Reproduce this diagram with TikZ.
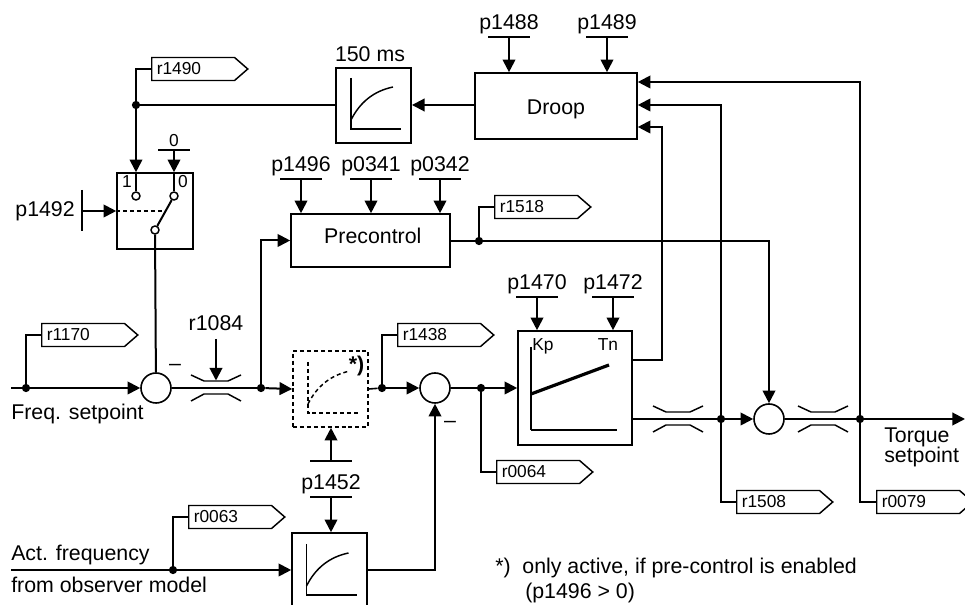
\documentclass[tikz,border=0pt]{standalone}
\usepackage{fontspec}
\setmainfont{Liberation Sans}
\usepackage{tikz}
\usetikzlibrary{shapes,shapes.symbols,arrows.meta,positioning,calc}
\tikzset{
    lbl/.style={inner sep=0pt, font=\fontsize{16pt}{19pt}\selectfont},
    lblsmall/.style={inner sep=0pt, font=\fontsize{13pt}{15pt}\selectfont},
    block/.style={draw, line width=1.2pt, inner sep=0pt, fill=white, font=\fontsize{16pt}{19pt}\selectfont},
    sumpt/.style={circle, draw, line width=1.2pt, minimum size=22.5pt, inner sep=0pt},
    dot/.style={circle, fill=black, minimum size=6.2pt, inner sep=0pt},
    contact/.style={circle, draw, fill=white, line width=1.1pt, minimum size=6pt, inner sep=0pt},
    tagbox/.style={signal, signal to=east, signal pointer angle=82, draw, line width=1.1pt, anchor=west,
        minimum height=17.25pt, text width=54.5pt, inner xsep=3.8pt, inner ysep=0pt, align=left,
        font=\fontsize{13pt}{15pt}\selectfont},
    wire/.style={line width=1.5pt},
    branch/.style={line width=1.2pt},
    sig/.style={line width=1.5pt, -{Triangle[length=9.5pt,width=9.5pt]}},
    throttle/.pic={
        \draw[line width=1.1pt] (-25,-13) -- (-12,-7) -- (12,-7) -- (25,-13);
        \draw[line width=1.1pt] (-25,13) -- (-12,6) -- (12,6) -- (25,13);
    },
    lagcurve/.pic={
        \draw[line width=1.1pt] (0,-51) -- (0,0) -- (50,0);
        \draw[line width=1.1pt] (0,-9) .. controls (9,-27) and (23,-38) .. (42,-42);
    }
}

\begin{document}
\begin{tikzpicture}[x=0.75pt, y=-0.75pt]
    \clip (0,0) rectangle (965,605);

    % --- Blocks ---
    \node[block, minimum width=56.5pt, minimum height=56.5pt] (smooth) at (373.5,105.5) {};
    \node[block, minimum width=121.5pt, minimum height=49.5pt, text height=13.5pt, text depth=0pt] (droop) at (556,106) {Droop};
    \node[block, minimum width=119.25pt, minimum height=39.75pt, text height=12pt, text depth=7pt] (precontrol) at (370.5,240.5) {\hspace*{3.5pt}Precontrol};
    \node[block, minimum width=57pt, minimum height=57pt] (switchbox) at (155,211) {};
    \node[block, dashed, dash pattern=on 3pt off 2.2pt, minimum width=56.25pt, minimum height=57pt] (gain) at (330.5,389) {};
    \node[block, minimum width=85.5pt, minimum height=85.5pt] (kpbox) at (575,388) {};
    \node[block, minimum width=56.25pt, minimum height=57pt] (actfilter) at (329.5,571) {};

    % --- Summing points ---
    \node[sumpt] (sumfreq) at (156,388) {};
    \node[sumpt] (sumact) at (435,388) {};
    \node[sumpt] (sumout) at (769,419) {};
    \node[lbl, anchor=base] (minusa) at (175,371) {–};
    \node[lbl, anchor=base] (minusb) at (450,428) {–};

    % --- Junctions ---
    \node[dot] (jback) at (136,105) {};
    \node[dot] (jfreq) at (26,388) {};
    \node[dot] (jlimit) at (261,388) {};
    \node[dot] (jgain) at (382,388) {};
    \node[dot] (jerror) at (481,388) {};
    \node[dot] (jact) at (173,570) {};
    \node[dot] (jpre) at (479,241) {};
    \node[dot] (jpi) at (721,419) {};
    \node[dot] (jtorque) at (860,419) {};

    % --- Signal tags ---
    \foreach \tname/\tx/\ty in {r1490/151/69, r1170/41/335, r1438/397/335, r0063/188/517,
        r1518/494/207, r0064/496/472, r1508/736/502, r0079/876/502}
        \node[tagbox] (\tname) at (\tx,\ty) {\tname};
    \draw[branch] (jback) |- (r1490.west);
    \draw[branch] (jfreq) |- (r1170.west);
    \draw[branch] (jgain) |- (r1438.west);
    \draw[branch] (jact) |- (r0063.west);
    \draw[branch] (jpre) |- (r1518.west);
    \draw[branch] (jerror) |- (r0064.west);
    \draw[branch] (jpi) |- (r1508.west);
    \draw[branch] (jtorque) |- (r0079.west);

    % --- Parameter inputs ---
    \foreach \pname/\px/\py/\ptarget in {p1488/509/37/droop, p1489/607/37/droop,
        p1496/301/179/precontrol, p0341/371/179/precontrol, p0342/440/179/precontrol,
        p1470/537/297/kpbox, p1472/613/297/kpbox, p1452/331/497/actfilter} {
        \coordinate (\pname) at (\px,\py);
        \node[lbl, anchor=base] (\pname txt) at ($(\pname)+(0,-7.5)$) {\pname};
        \draw[wire] ([xshift=-15.75pt]\pname) -- ([xshift=15.75pt]\pname);
        \draw[sig] (\pname) -- (\pname |- \ptarget.north);
    }
    % p1452 is also fed upward into the dashed block
    \coordinate (p1452up) at (331,461);
    \draw[wire] ([xshift=-15.75pt]p1452up) -- ([xshift=15.75pt]p1452up);
    \draw[sig] (p1452up) -- (p1452up |- gain.south);

    % --- Changeover switch ---
    \node[contact] (conta) at (136,196) {};
    \node[contact] (contb) at (174,196) {};
    \node[contact] (contc) at (155,230) {};
    \node[lblsmall, anchor=base] (numa) at (127,188) {1};
    \node[lblsmall, anchor=base] (numb) at (183,188) {0};
    \draw[sig] (jback) -- (jback |- switchbox.north);
    \draw[wire] (jback |- switchbox.north) -- (conta);
    \coordinate (zero) at (174,150);
    \node[lblsmall, anchor=base] (zerotxt) at (174,146.5) {0};
    \draw[wire] ([xshift=-12pt]zero) -- ([xshift=12pt]zero);
    \draw[sig] (zero) -- (zero |- switchbox.north);
    \draw[wire] (zero |- switchbox.north) -- (contb);
    \draw[wire] (contb) -- (contc);
    \coordinate (p1492) at (82,211);
    \node[lbl, anchor=base east] (p1492txt) at (75,217) {p1492};
    \draw[wire] (82,190) -- (82,231);
    \draw[sig] (p1492) -- (switchbox.west);
    \draw[branch, dashed, dash pattern=on 3pt off 2.2pt] (switchbox.west) -- (163,211);
    \draw[wire] (contc) -- (sumfreq);

    % --- Setpoint path ---
    \coordinate (freqin) at (11,388);
    \node[lbl, anchor=base west] (freqtxt) at (11,420) {Freq. setpoint};
    \draw[sig] (freqin) -- (sumfreq);
    \draw[wire] (sumfreq) -- (jlimit);
    \pic at (216,388) {throttle};
    \coordinate (r1084) at (216,339);
    \node[lbl, anchor=base] (r1084txt) at (216,331) {r1084};
    \draw[sig] (r1084) -- (216,380.5);
    \draw[sig] (jlimit) |- (precontrol.west);
    \draw[sig] (jlimit) -- (gain.west);
    \draw[branch] (gain.east) -- (jgain);
    \draw[sig] (jgain) -- (sumact);
    \draw[wire] (sumact) -- (jerror);
    \draw[sig] (jerror) -- (kpbox.west);

    % --- Curves inside the blocks ---
    \pic at (351,129) {lagcurve};
    \pic at (306.5,595) {lagcurve};
    \pic[dashed, dash pattern=on 3pt off 2.2pt] at (308,413) {lagcurve};
    \node[lbl, anchor=base, font=\fontsize{16pt}{19pt}\selectfont\bfseries] (note) at (356.5,372) {*)};
    \draw[line width=1.2pt] (531,347) -- (531,394);
    \draw[line width=2pt] (531,394) -- (531,430);
    \draw[line width=1.1pt] (531,430) -- (617,430);
    \draw[line width=2.4pt] (531,394) -- (609,365);
    \node[lblsmall, anchor=base] (kptxt) at (543,351) {Kp};
    \node[lblsmall, anchor=base] (tntxt) at (608,351) {Tn};

    % --- Actual frequency path ---
    \coordinate (actin) at (11,570);
    \node[lbl, anchor=base west] (acttxt) at (11,561) {Act. frequency};
    \node[lbl, anchor=base west] (obstxt) at (11,593) {from observer model};
    \draw[sig] (actin) -- (actin -| actfilter.west);
    \draw[sig] (actfilter.east |- actin) -| (sumact);

    % --- Output path ---
    \coordinate (piout) at (632,419);
    \coordinate (torqueout) at (965,419);
    \draw[wire] (piout) -- (jpi);
    \draw[sig] (jpi) -- (sumout);
    \draw[wire] (sumout) -- (jtorque);
    \draw[sig] (jtorque) -- (torqueout);
    \pic at (678,419) {throttle};
    \pic at (823,419) {throttle};
    \node[lbl, anchor=base west] (torquetxt) at (884,443) {Torque};
    \node[lbl, anchor=base west] (setptxt) at (884,463) {setpoint};
    \draw[sig] (precontrol.east |- jpre) -| (sumout);

    % --- Feedback into droop ---
    \coordinate (droopa) at (droop.east |- 0,82);
    \coordinate (droopb) at (droop.east |- 0,105);
    \coordinate (droopc) at (droop.east |- 0,127);
    \coordinate (kpout) at (kpbox.east |- 0,360);
    \draw[sig] (jtorque) |- (droopa);
    \draw[sig] (jpi) |- (droopb);
    \draw[sig] (kpout) -| (661.5,127) -- (droopc);
    \draw[sig] (droop.west |- jback) -- (smooth.east |- jback);
    \draw[wire] (jback) -- (smooth.west |- jback);
    \node[lbl, anchor=base] (smoothtxt) at (370,62) {150 ms};

    % --- Footnote ---
    \node[lbl, anchor=base west] (notea) at (495,574) {*)\hspace{0.55em}only active, if pre-control is enabled};
    \node[lbl, anchor=base west] (noteb) at (525,599) {(p1496 > 0)};
\end{tikzpicture}
\end{document}
